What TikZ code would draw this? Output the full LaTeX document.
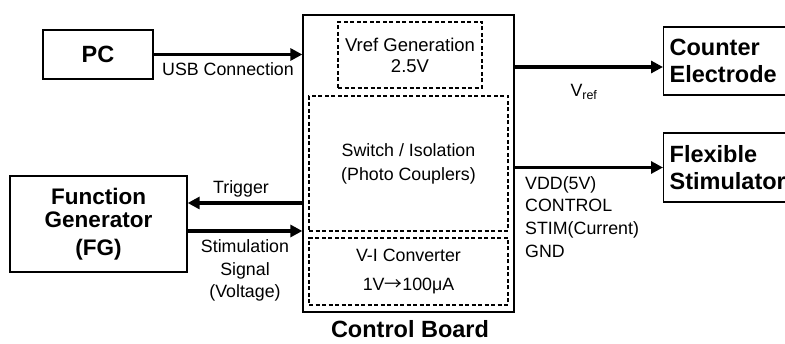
\documentclass[tikz,border=0pt]{standalone}
\usepackage{fontspec}
\setmainfont{Liberation Sans}
\newfontfamily\cjkfont{Noto Sans CJK SC}
\usetikzlibrary{arrows.meta}
\begin{document}
\begin{tikzpicture}[x=1pt,y=-1pt,
  solidbox/.style={draw, line width=1.3pt, inner sep=0pt, align=center},
  dashbox/.style={draw, line width=1.2pt, dash pattern=on 4pt off 2.5pt, inner sep=0pt, align=center},
  bigarrow/.style={line width=3.6pt, -{Triangle[length=12pt,width=12pt]}},
  boldtxt/.style={font=\fontsize{23.5}{27}\selectfont\bfseries},
  regtxt/.style={font=\fontsize{17.8}{22.7}\selectfont}
]
\useasboundingbox (0,0) rectangle (785,344);
\clip (0,0) rectangle (785,344);

% main blocks
\node[solidbox, boldtxt, minimum width=110pt, minimum height=49pt] (pc) at (98,54.5) {PC};
\node[solidbox, minimum width=211pt, minimum height=297pt] (board) at (408.5,163.5) {};
\node[dashbox, regtxt, minimum width=144pt, minimum height=66pt, font=\fontsize{18.5}{21}\selectfont] (vref) at (410,55) {Vref Generation\\2.5V};
\node[dashbox, regtxt, minimum width=199pt, minimum height=135pt, font=\fontsize{17.8}{24}\selectfont] (sw) at (408.5,163.5) {Switch / Isolation\\(Photo Couplers)};
\node[dashbox, regtxt, minimum width=199pt, minimum height=67pt] (vi) at (408.5,271.5) {V-I Converter\\[6pt]1V{\cjkfont →}100μA};
\node[solidbox, boldtxt, anchor=west, text width=155pt, align=left, inner xsep=6pt, minimum height=68pt] (ce) at (663,61) {Counter\\Electrode};
\node[solidbox, boldtxt, anchor=west, text width=155pt, align=left, inner xsep=6pt, minimum height=69pt] (fs) at (663,167.5) {Flexible\\Stimulator};
\node[solidbox, minimum width=177pt, minimum height=96pt, font=\fontsize{22.5}{23}\selectfont\bfseries] (fg) at (98.5,224) {Function\\Generator\\[5pt](FG)};

% labels
\node[regtxt] (usbl) at (228,69) {USB Connection};
\node[regtxt] (vrefl) at (584,92) {V\textsubscript{ref}};
\node[regtxt] (trigl) at (241,189) {Trigger};
\node[regtxt, align=center] (stiml) at (245,270.5) {Stimulation\\Signal\\(Voltage)};
\node[regtxt, align=left, anchor=north west, inner sep=0pt] (vddl) at (525,176) {VDD(5V)\\CONTROL\\STIM(Current)\\GND};
\node[boldtxt] (cbl) at (410,329) {Control Board};

% connectors
\coordinate (vrefend) at ([yshift=-6pt]ce.west);
\coordinate (trigend) at ([yshift=21pt]fg.east);
\coordinate (stimstart) at ([yshift=-7pt]fg.east);
\draw[bigarrow] (pc.east) -- (pc.east -| board.west);
\draw[bigarrow] (vrefend -| board.east) -- (vrefend);
\draw[bigarrow] (fs.west -| board.east) -- (fs.west);
\draw[bigarrow] (trigend -| board.west) -- (trigend);
\draw[bigarrow] (stimstart) -- (stimstart -| board.west);
\end{tikzpicture}
\end{document}
